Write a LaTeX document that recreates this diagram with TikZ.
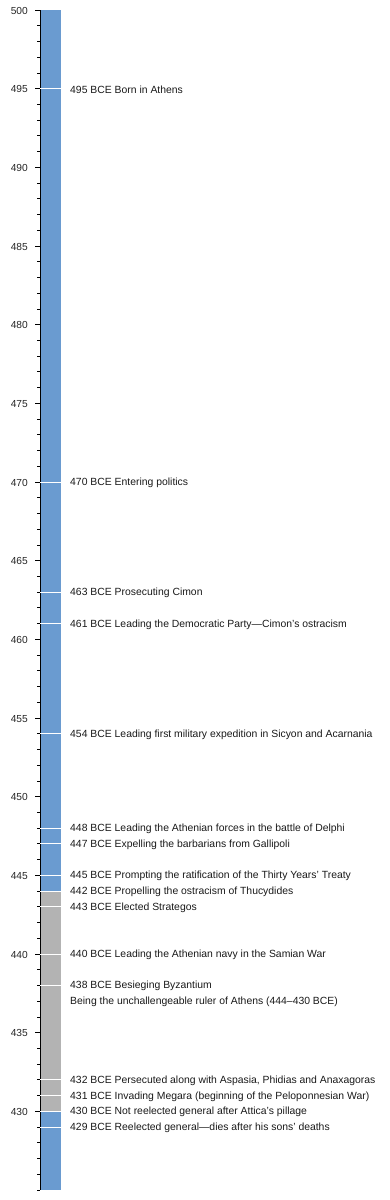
\documentclass[tikz,border=0pt]{standalone}
\usepackage{fontspec}
\setmainfont{Liberation Sans}
\usetikzlibrary{positioning}
\definecolor{barblue}{RGB}{106,155,208}
\definecolor{bargray}{RGB}{179,179,179}
\tikzset{
  yearlabel/.style={anchor=east, inner sep=0pt, yshift=-0.8pt, font=\fontsize{10.2}{12}\selectfont, text=black!85},
  eventlabel/.style={anchor=west, inner sep=0pt, yshift=-0.8pt, font=\fontsize{10.4}{12}\selectfont, text=black!90},
  eventline/.style={white, line width=0.8pt},
  tickline/.style={black, line width=0.8pt},
}

\begin{document}
\begin{tikzpicture}
\useasboundingbox (0pt,0pt) rectangle (390pt,1200pt);

\begin{scope}[shift={(0pt,10pt)}, x=1pt, y=15.733pt]

  % Bar: blue life span, gray period of rule
  \fill[barblue] (40,0) rectangle (61,75);
  \fill[bargray] (40,{444-425}) rectangle (61,{430-425});

  % Axis with yearly ticks
  \draw[tickline] (40,0) -- (40,75);
  \foreach \y in {425,...,500}
    \draw[tickline] (37,{\y-425}) -- (40,{\y-425});
  \foreach \y in {430,435,...,500}{
    \draw[tickline] (35,{\y-425}) -- (40,{\y-425});
    \node[yearlabel] (tk\y) at (28,{\y-425}) {\y};
  }

  % Events
  \foreach \y/\t in {495/495 BCE Born in Athens,
                     470/470 BCE Entering politics,
                     463/463 BCE Prosecuting Cimon,
                     461/461 BCE Leading the Democratic Party---Cimon's ostracism,
                     454/454 BCE Leading first military expedition in Sicyon and Acarnania,
                     448/448 BCE Leading the Athenian forces in the battle of Delphi,
                     447/447 BCE Expelling the barbarians from Gallipoli,
                     445/445 BCE Prompting the ratification of the Thirty Years' Treaty,
                     444/442 BCE Propelling the ostracism of Thucydides,
                     443/443 BCE Elected Strategos,
                     440/440 BCE Leading the Athenian navy in the Samian War,
                     438/438 BCE Besieging Byzantium,
                     432/{432 BCE Persecuted along with Aspasia, Phidias and Anaxagoras},
                     431/431 BCE Invading Megara (beginning of the Peloponnesian War),
                     430/430 BCE Not reelected general after Attica's pillage,
                     429/429 BCE Reelected general---dies after his sons' deaths}{
    \draw[eventline] (40,{\y-425}) -- (61,{\y-425});
    \node[eventlabel] (ev\y) at (70,{\y-425}) {\t};
  }
  \node[eventlabel] (rule) at (70,{437-425}) {Being the unchallengeable ruler of Athens (444--430 BCE)};

\end{scope}
\end{tikzpicture}
\end{document}
